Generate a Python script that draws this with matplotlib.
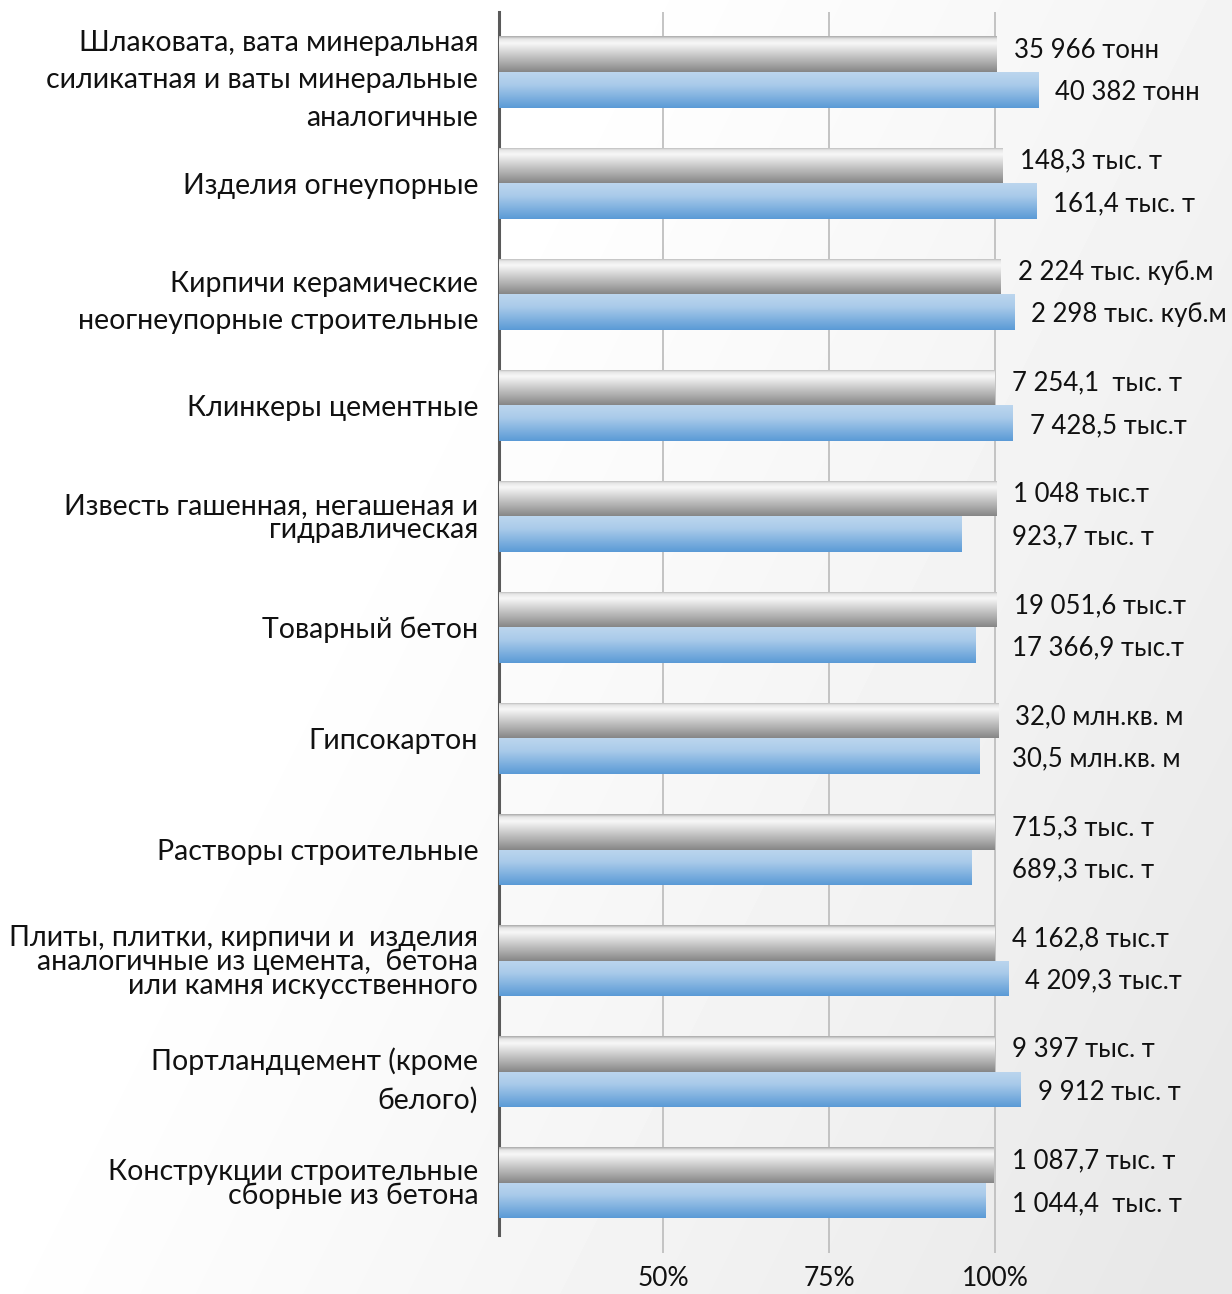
import numpy as np
import matplotlib
matplotlib.use("Agg")
import matplotlib.pyplot as plt
from matplotlib.colors import LinearSegmentedColormap

# ---------------- data ----------------
categories = [
    "Шлаковата, вата минеральная\nсиликатная и ваты минеральные\nаналогичные",
    "Изделия огнеупорные",
    "Кирпичи керамические\nнеогнеупорные строительные",
    "Клинкеры цементные",
    "Известь гашенная, негашеная и\nгидравлическая",
    "Товарный бетон",
    "Гипсокартон",
    "Растворы строительные",
    "Плиты, плитки, кирпичи и  изделия\nаналогичные из цемента,  бетона\nили камня искусственного",
    "Портландцемент (кроме\nбелого)",
    "Конструкции строительные\nсборные из бетона",
]
prev_pct = [100.3, 101.2, 100.9, 100.0, 100.2, 100.3, 100.5, 100.0, 100.0, 100.0, 99.8]
curr_pct = [106.5, 106.3, 102.9, 102.7, 95.0, 97.1, 97.6, 96.4, 102.0, 103.9, 98.5]
prev_labels = ["35 966 тонн", "148,3 тыс. т", "2 224 тыс. куб.м", "7 254,1  тыс. т",
               "1 048 тыс.т", "19 051,6 тыс.т", "32,0 млн.кв. м", "715,3 тыс. т",
               "4 162,8 тыс.т", "9 397 тыс. т", "1 087,7 тыс. т"]
curr_labels = ["40 382 тонн", "161,4 тыс. т", "2 298 тыс. куб.м", "7 428,5 тыс.т",
               "923,7 тыс. т", "17 366,9 тыс.т", "30,5 млн.кв. м", "689,3 тыс. т",
               "4 209,3 тыс.т", "9 912 тыс. т", "1 044,4  тыс. т"]
tight_labels = [4, 8, 10]   # labels drawn with compressed line spacing
x_ticks = [50, 75, 100]
x_ticklabels = ["50%", "75%", "100%"]

FONT = ["Lato", "DejaVu Sans"]
plt.rcParams["font.family"] = FONT

W, H = 1232, 1294
fig = plt.figure(figsize=(W / 100, H / 100), dpi=100)

# ---------------- background ----------------
bg = fig.add_axes([0, 0, 1, 1], zorder=-10)
yy, xx = np.mgrid[0:H, 0:W]
f = np.clip((xx * 0.8 + yy * 0.4 - 480.0) / 950.0, 0, 1)
val = 1.0 - 0.09 * f ** 1.1
bg.imshow(val, cmap="gray", vmin=0, vmax=1, extent=[0, 1, 0, 1], aspect="auto", origin="upper")
bg.set_axis_off()

# ---------------- main axes ----------------
ax = fig.add_axes([499 / W, 1 - 1235 / H, (W - 499) / W, (1235 - 12) / H])
ax.patch.set_alpha(0)

ypos = np.arange(len(categories))
h = 0.32
XMIN, XMAX = 25.3, 135.7

gray_cmap = LinearSegmentedColormap.from_list(
    "g", [(0, "#a8a8a8"), (0.08, "#e6e6e6"), (0.2, "#f7f7f7"), (1, "#868686")])
blue_cmap = LinearSegmentedColormap.from_list(
    "b", [(0, "#bcd6ee"), (0.35, "#aacbea"), (1, "#5a9ad6")])

bars_prev = ax.barh(ypos - h / 2, [v - XMIN for v in prev_pct], left=XMIN, height=h,
                    color="none", edgecolor="none")
bars_curr = ax.barh(ypos + h / 2, [v - XMIN for v in curr_pct], left=XMIN, height=h,
                    color="none", edgecolor="none")

grad = np.linspace(0, 1, 256).reshape(-1, 1)
for bars, cmap in ((bars_prev, gray_cmap), (bars_curr, blue_cmap)):
    for p in bars:
        x0, y0 = p.get_x(), p.get_y()
        x1, y1 = x0 + p.get_width(), y0 + p.get_height()
        im = ax.imshow(grad, cmap=cmap, extent=(x0, x1, y1, y0), aspect="auto",
                       origin="upper", zorder=3, interpolation="bilinear")
        im.set_clip_path(p)

ax.set_xlim(XMIN, XMAX)
ax.set_ylim(len(categories) - 1 + 0.47, -0.54)

# grid
ax.set_xticks(x_ticks)
ax.set_xticklabels(x_ticklabels, fontsize=19)
ax.grid(axis="x", color="#bfbfbf", linewidth=1.3, zorder=0)
ax.set_axisbelow(True)
ax.tick_params(axis="x", length=13, width=1.3, color="#bfbfbf", pad=9, labelcolor="#111111")
for s in ("top", "right", "bottom"):
    ax.spines[s].set_visible(False)
ax.spines["left"].set_color("#5a5a5a")
ax.spines["left"].set_linewidth(2.2)

# category labels
ax.set_yticks(ypos)
ax.set_yticklabels(categories, fontsize=20.5, color="#111111", ha="right")
ax.tick_params(axis="y", length=0, pad=15)
for i, t in enumerate(ax.get_yticklabels()):
    t.set_multialignment("right")
    t.set_linespacing(0.9 if i in tight_labels else 1.55)

# value labels
for i in range(len(categories)):
    ax.annotate(prev_labels[i], xy=(max(prev_pct[i], 100), ypos[i] - h / 2),
                xytext=(12, 3), textcoords="offset points", va="center", ha="left",
                fontsize=18.5, color="#111111", annotation_clip=False)
    ax.annotate(curr_labels[i], xy=(max(curr_pct[i], 100), ypos[i] + h / 2),
                xytext=(12, -2), textcoords="offset points", va="center", ha="left",
                fontsize=18.5, color="#111111", annotation_clip=False)

fig.savefig("out.png", dpi=100)
